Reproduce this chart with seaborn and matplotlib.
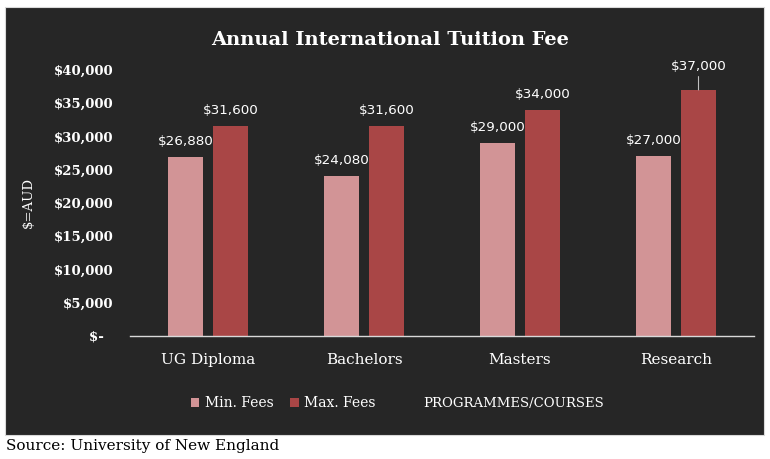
import matplotlib
matplotlib.use("Agg")
import matplotlib.pyplot as plt
import seaborn as sns
import pandas as pd
from matplotlib.patches import Rectangle

categories = ["UG Diploma", "Bachelors", "Masters", "Research"]
min_fees = [26880, 24080, 29000, 27000]
max_fees = [31600, 31600, 34000, 37000]
series_names = ["Min. Fees", "Max. Fees"]
y_ticks = [0, 5000, 10000, 15000, 20000, 25000, 30000, 35000, 40000]

BG = "#262626"
C_MIN = "#D29496"
C_MAX = "#A94646"
SERIF = "DejaVu Serif"

df = pd.DataFrame({
    "Programme": categories * 2,
    "Fee": min_fees + max_fees,
    "Series": [series_names[0]] * 4 + [series_names[1]] * 4,
})

sns.set_theme(style="white")
plt.rcParams["font.family"] = ["DejaVu Serif", "DejaVu Sans"]

W, H = 770, 459
fig = plt.figure(figsize=(W / 100, H / 100), dpi=100)
fig.patch.set_facecolor("white")
fig.patches.append(Rectangle((5 / W, 1 - 435 / H), (764 - 5) / W, (435 - 7) / H,
                             transform=fig.transFigure, facecolor=BG, edgecolor="#d9d9d9",
                             linewidth=0.8, zorder=-10))

ax = fig.add_axes([130 / W, 1 - 336 / H, (754 - 130) / W, (336 - 70) / H])
ax.set_facecolor("none")

sns.barplot(data=df, x="Programme", y="Fee", hue="Series", order=categories,
            hue_order=series_names, palette=[C_MIN, C_MAX], width=0.577, gap=0.224,
            saturation=1, linewidth=0, edgecolor="none", ax=ax, legend=True)

ax.set_ylim(0, 40000)
ax.set_yticks(y_ticks)
ax.set_yticklabels(["$-  " if v == 0 else "${:,}".format(v) for v in y_ticks],
                   color="white", fontsize=9.5, family=SERIF, fontweight="semibold")
ax.tick_params(axis="y", length=0, pad=12)
ax.tick_params(axis="x", length=0, pad=12)
for lab in ax.get_xticklabels():
    lab.set_color("white")
    lab.set_fontsize(11)
    lab.set_family(SERIF)

for s in ["top", "right", "left"]:
    ax.spines[s].set_visible(False)
ax.spines["bottom"].set_color("#d9d9d9")
ax.spines["bottom"].set_linewidth(1.0)

# data labels
for ci, cont in enumerate(ax.containers):
    for bar in cont:
        h = bar.get_height()
        x = bar.get_x() + bar.get_width() / 2
        if h >= 36000:
            ax.annotate("${:,.0f}".format(h), xy=(x, h), xytext=(0, 12), textcoords="offset points",
                        ha="center", va="bottom", color="white", fontsize=9.7, family="DejaVu Sans",
                        annotation_clip=False,
                        arrowprops=dict(arrowstyle="-", color="#bfbfbf", lw=0.8, shrinkA=0, shrinkB=0))
        else:
            ax.annotate("${:,.0f}".format(h), xy=(x, h), xytext=(0, 6.5), textcoords="offset points",
                        ha="center", va="bottom", color="white", fontsize=9.7, family="DejaVu Sans",
                        annotation_clip=False)

ax.set_ylabel("$=AUD", color="white", fontsize=9.5, family=SERIF)
ax.yaxis.set_label_coords((35 - 130) / 624, 0.5)
ax.set_xlabel("PROGRAMMES/COURSES", color="white", fontsize=9.5, family=SERIF)
ax.xaxis.label.set_va("center")
ax.xaxis.set_label_coords((513.5 - 130) / 624, (336 - 403) / 266)

leg = ax.legend(loc="center", bbox_to_anchor=((283.5 - 130) / 624, (336 - 403) / 266),
                ncol=2, frameon=False, handlelength=0.6, handleheight=0.6, handletextpad=0.4,
                columnspacing=1.2, prop={"family": SERIF, "size": 10})
for t in leg.get_texts():
    t.set_color("white")
for p in leg.get_patches():
    p.set_edgecolor("none")
    p.set_linewidth(0)

fig.text(390 / W, 1 - 40 / H, "Annual International Tuition Fee", ha="center", va="center",
         color="white", fontsize=14, fontweight="bold", family=SERIF)
fig.text(6 / W, 1 - 446 / H, "Source: University of New England", ha="left", va="center",
         color="black", fontsize=11, family=SERIF)

fig.savefig("out.png", dpi=100, facecolor="white")
